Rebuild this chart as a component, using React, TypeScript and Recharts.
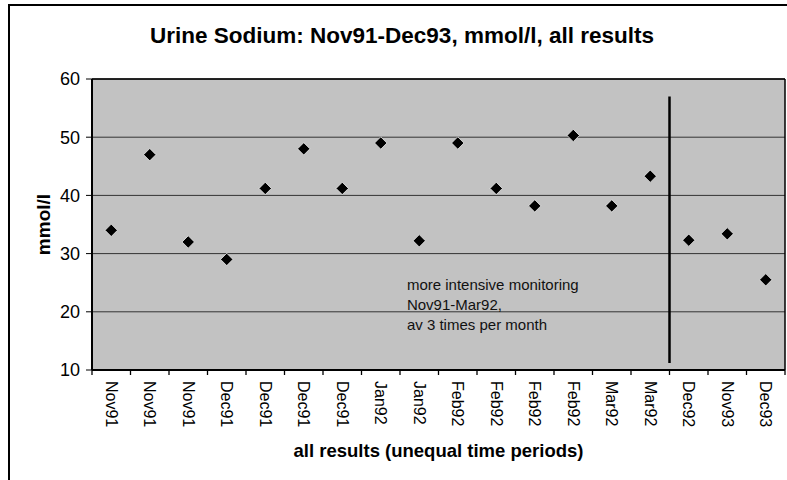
import React from 'react';
import { ComposedChart, Scatter, XAxis, YAxis, CartesianGrid, ReferenceLine, ReferenceDot } from 'recharts';

// one entry per result, in the order the samples were taken
const CATEGORIES = [
  'Nov91', 'Nov91', 'Nov91', 'Dec91', 'Dec91', 'Dec91', 'Dec91', 'Jan92', 'Jan92',
  'Feb92', 'Feb92', 'Feb92', 'Feb92', 'Mar92', 'Mar92', 'Dec92', 'Nov93', 'Dec93',
];
const SODIUM = [34, 47, 32, 29, 41.2, 48, 41.2, 49, 32.2, 49, 41.2, 38.2, 50.3, 38.2, 43.3, 32.3, 33.4, 25.5];
const Y_TICKS = [10, 20, 30, 40, 50, 60];
const NOTE_LINES = ['more intensive monitoring', 'Nov91-Mar92,', 'av 3 times per month'];
// divider between the intensive period and the later results
const DIVIDER_AT = 15;
const DIVIDER_RANGE = [57, 11.2];
const NOTE_AT = { x: 8.18, y: 23.7 };

const FONT = '"Liberation Sans", Arial, sans-serif';

const data = CATEGORIES.map((label, i) => ({ pos: i + 0.5, value: SODIUM[i], label }));
// integer ticks = boundaries (tick marks), half ticks = category labels
const xTicks = Array.from({ length: CATEGORIES.length * 2 + 1 }, (_, k) => k / 2);

const XTick = (props: any) => {
  const { x, y, payload } = props;
  const v = payload.value;
  if (Number.isInteger(v)) {
    return <line x1={x} y1={y} x2={x} y2={y + 5} stroke="#000" strokeWidth={1.3} />;
  }
  const ty = y + 11;
  return (
    <text x={x} y={ty} transform={`rotate(90 ${x} ${ty})`} textAnchor="start" dominantBaseline="central"
      fontSize={16} fontFamily={FONT} fill="#000">
      {CATEGORIES[Math.floor(v)]}
    </text>
  );
};

const Diamond = (props: any) => {
  const { cx, cy } = props;
  const r = 6.2;
  return (
    <polygon points={`${cx},${cy - r} ${cx + r},${cy} ${cx},${cy + r} ${cx - r},${cy}`}
      fill="#000" stroke="#eee" strokeWidth={0.8} />
  );
};

const Note = (props: any) => {
  const { cx, cy } = props;
  return (
    <text x={cx} y={cy} fontSize={15} fontFamily={FONT} fill="#111">
      {NOTE_LINES.map((t, i) => (
        <tspan key={i} x={cx} dy={i === 0 ? 0 : 20}>{t}</tspan>
      ))}
    </text>
  );
};

const YTitle = (props: any) => {
  const { viewBox } = props;
  const cx = viewBox.x + 43;
  const cy = viewBox.y + viewBox.height / 2;
  return (
    <text x={cx} y={cy} transform={`rotate(-90 ${cx} ${cy})`} textAnchor="middle" dominantBaseline="central"
      fontSize={19} fontWeight="bold" fontFamily={FONT} fill="#000">
      mmol/l
    </text>
  );
};

export default function App() {
  return (
    <div style={{ position: 'relative', width: 787, height: 480, overflow: 'hidden', background: '#fff', fontFamily: FONT }}>
      <style>{'body{margin:0}'}</style>
      <div style={{ position: 'absolute', left: 8, top: 4, width: 820, height: 520, border: '2px solid #000' }} />
      <div style={{ position: 'absolute', left: 0, top: 23, width: 804, textAlign: 'center', fontSize: 22.5, fontWeight: 'bold', color: '#000' }}>
        Urine Sodium: Nov91-Dec93, mmol/l, all results
      </div>
      <div style={{ position: 'absolute', left: 0, top: 0 }}>
        <ComposedChart width={787} height={480} data={data} margin={{ top: 79, right: 2, bottom: 0, left: 0 }}>
          <CartesianGrid vertical={false} stroke="#333" strokeWidth={1} fill="#c2c2c2" fillOpacity={1} />
          <XAxis dataKey="pos" type="number" domain={[0, CATEGORIES.length]} ticks={xTicks} interval={0}
            tick={<XTick />} tickLine={false} tickSize={0} tickMargin={0} height={110}
            axisLine={{ stroke: '#000', strokeWidth: 2 }}
            label={{ value: 'all results (unequal time periods)', position: 'insideBottom', offset: 23, fontSize: 18.5, fontWeight: 'bold', fill: '#000', fontFamily: FONT }} />
          <YAxis type="number" domain={[10, 60]} ticks={Y_TICKS} interval={0} width={92}
            tick={{ fontSize: 18, fill: '#000', fontFamily: FONT }} tickSize={6} tickMargin={6}
            tickLine={{ stroke: '#000' }} axisLine={{ stroke: '#000', strokeWidth: 2 }}
            label={<YTitle />} />
          <ReferenceLine y={60} stroke="#000" strokeWidth={1.5} />
          <ReferenceLine x={CATEGORIES.length} stroke="#000" strokeWidth={1.5} />
          <ReferenceLine segment={[{ x: DIVIDER_AT, y: DIVIDER_RANGE[0] }, { x: DIVIDER_AT, y: DIVIDER_RANGE[1] }]}
            stroke="#000" strokeWidth={2.5} />
          <ReferenceDot x={NOTE_AT.x} y={NOTE_AT.y} r={0} shape={<Note />} />
          <Scatter dataKey="value" shape={<Diamond />} isAnimationActive={false} />
        </ComposedChart>
      </div>
    </div>
  );
}
